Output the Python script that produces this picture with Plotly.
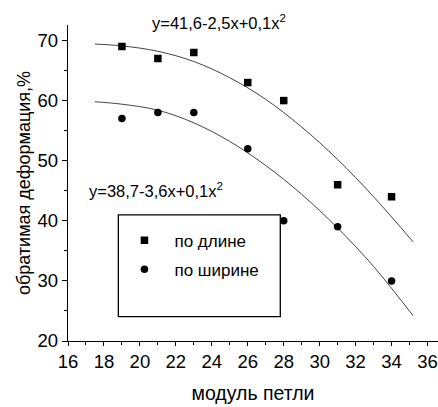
import plotly.graph_objects as go

# measured points
x_pts = [19, 21, 23, 26, 28, 31, 34]
po_dline = [69, 67, 68, 63, 60, 46, 44]
po_shirine = [57, 58, 58, 52, 40, 39, 30]

# fitted curves
fit_x = [17.5, 19, 21, 23, 25, 27, 29, 31, 33, 35.2]
fit_dline = [69.4, 69.1, 68.2, 66.5, 63.8, 60.2, 55.6, 50.2, 44.0, 36.5]
fit_shirine = [59.8, 59.4, 58.4, 56.3, 53.2, 49.2, 44.4, 38.8, 32.4, 24.2]

x_ticks = list(range(16, 37, 2))
y_ticks = [20, 30, 40, 50, 60, 70]

FONT = "Liberation Sans, Arial, sans-serif"

L, T, W, H = 67.5, 25, 370.5, 316.5  # plot area in pixels

fig = go.Figure()
fig.add_trace(go.Scatter(x=fit_x, y=fit_dline, mode="lines", line=dict(color="#444", width=1, shape="spline"),
                         showlegend=False, hoverinfo="skip"))
fig.add_trace(go.Scatter(x=fit_x, y=fit_shirine, mode="lines", line=dict(color="#444", width=1, shape="spline"),
                         showlegend=False, hoverinfo="skip"))
fig.add_trace(go.Scatter(x=x_pts, y=po_dline, mode="markers", name="по длине",
                         marker=dict(symbol="square", size=7.5, color="black"), legendgroup="a"))
fig.add_trace(go.Scatter(x=x_pts, y=po_shirine, mode="markers", name="по ширине",
                         marker=dict(symbol="circle", size=7.5, color="black"), legendgroup="b"))

fig.add_shape(type="rect", xref="x", yref="y", x0=18.8, x1=27.81, y0=24.07, y1=41.0,
              line=dict(color="black", width=1.3), fillcolor="rgba(0,0,0,0)")

fig.add_annotation(x=(150 - L) / W, y=1 + (T - 22) / H, xref="paper", yref="paper",
                   text="y=41,6-2,5x+0,1x<sup>2</sup>", showarrow=False,
                   xanchor="left", yanchor="middle", font=dict(family=FONT, size=16.5, color="black"))
fig.add_annotation(x=(87 - L) / W, y=1 - (190 - T) / H, xref="paper", yref="paper",
                   text="y=38,7-3,6x+0,1x<sup>2</sup>", showarrow=False,
                   xanchor="left", yanchor="middle", font=dict(family=FONT, size=16.5, color="black"))

fig.update_layout(
    width=438, height=407,
    margin=dict(l=L, r=438 - L - W, t=T, b=407 - T - H),
    paper_bgcolor="white", plot_bgcolor="white",
    font=dict(family=FONT, size=18, color="black"),
    legend=dict(x=(114 - L) / W, y=1 - (223 - T) / H, xref="paper", yref="paper",
                xanchor="left", yanchor="top", bgcolor="rgba(0,0,0,0)",
                font=dict(family=FONT, size=17, color="black"), tracegroupgap=4,
                itemwidth=50, itemsizing="trace"),
    xaxis=dict(range=[16, 16 + W / 18.0], tickvals=x_ticks, showgrid=False, zeroline=False, automargin=False,
               showline=True, linecolor="black", linewidth=1.3, ticks="outside", ticklen=4,
               tickcolor="black", tickwidth=1.3, tickfont=dict(size=18.5), ticklabeloverflow="allow",
               minor=dict(dtick=1, ticks="outside", ticklen=3, tickcolor="black", tickwidth=1.3),
               title=dict(text="модуль петли", font=dict(family=FONT, size=19.5), standoff=15)),
    yaxis=dict(range=[20, 20 + H / 6.02], tickvals=y_ticks, showgrid=False, zeroline=False, automargin=False,
               showline=True, linecolor="black", linewidth=1.3, ticks="outside", ticklen=5,
               tickcolor="black", tickwidth=1.3, tickfont=dict(size=18.5),
               minor=dict(dtick=5, ticks="outside", ticklen=3, tickcolor="black", tickwidth=1.3),
               title=dict(text="обратимая деформация,%", font=dict(family=FONT, size=18), standoff=2)),
)

fig.write_html("out.html", config={"displayModeBar": False},
               post_script="document.body.style.margin='0';document.body.style.overflow='hidden';")
